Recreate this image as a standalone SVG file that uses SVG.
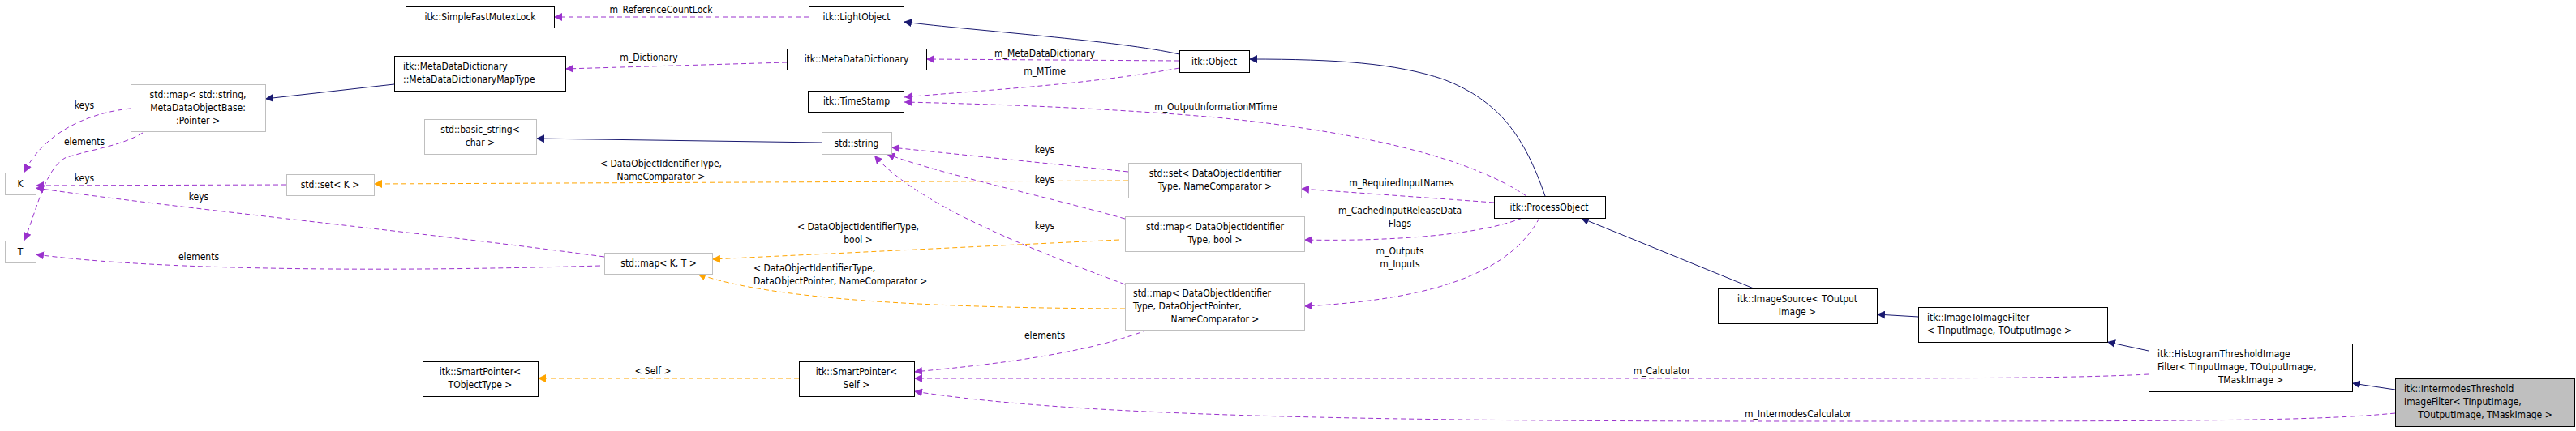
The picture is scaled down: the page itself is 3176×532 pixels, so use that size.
<svg xmlns="http://www.w3.org/2000/svg" width="3176" height="532" viewBox="0 0 3176 532">
<style>
text{font-family:"DejaVu Sans Condensed","DejaVu Sans",sans-serif;font-stretch:condensed;font-size:12px;fill:#000}
.n rect{fill:#fff;stroke:#000;stroke-width:1}
.g rect{fill:#fff;stroke:#bfbfbf;stroke-width:1}
.m{text-anchor:middle}
.p{fill:none;stroke:#9a32cd;stroke-dasharray:6,4}
.o{fill:none;stroke:#ffa500;stroke-dasharray:6,4}
.b{fill:none;stroke:#191970}
</style>
<defs>
<marker id="ap" viewBox="0 0 10 10" refX="10" refY="5" markerWidth="10" markerHeight="10" markerUnits="userSpaceOnUse" orient="auto"><path d="M0,0L10,5L0,10z" fill="#9a32cd"/></marker>
<marker id="ao" viewBox="0 0 10 10" refX="10" refY="5" markerWidth="10" markerHeight="10" markerUnits="userSpaceOnUse" orient="auto"><path d="M0,0L10,5L0,10z" fill="#ffa500"/></marker>
<marker id="ab" viewBox="0 0 10 10" refX="10" refY="5" markerWidth="10" markerHeight="10" markerUnits="userSpaceOnUse" orient="auto"><path d="M0,0L10,5L0,10z" fill="#191970"/></marker>
</defs>
<rect width="3176" height="532" fill="#fff"/>
<g id="edges">
<path class="p" marker-end="url(#ap)" d="M997,21L683,21"/>
<text class="m" x="815" y="16">m_ReferenceCountLock</text>
<path class="b" marker-end="url(#ab)" d="M1454,67C1380,50 1200,38 1114,27"/>
<path class="p" marker-end="url(#ap)" d="M1454,75L1142,73"/>
<text class="m" x="1288" y="70">m_MetaDataDictionary</text>
<path class="p" marker-end="url(#ap)" d="M1454,84C1340,105 1200,112 1115,120"/>
<text class="m" x="1288" y="92">m_MTime</text>
<path class="p" marker-end="url(#ap)" d="M1882,242C1820,200 1700,165 1500,145C1350,132 1200,128 1115,126"/>
<text class="m" x="1499" y="136">m_OutputInformationMTime</text>
<path class="b" marker-end="url(#ab)" d="M1905,242C1880,170 1850,125 1780,98C1720,78 1650,73 1540,73"/>
<path class="p" marker-end="url(#ap)" d="M970,77L697,85"/>
<text class="m" x="800" y="75">m_Dictionary</text>
<path class="b" marker-end="url(#ab)" d="M486,104L327,122"/>
<path class="p" marker-end="url(#ap)" d="M161,134C100,140 50,170 30,213"/>
<text class="m" x="104" y="134">keys</text>
<path class="p" marker-end="url(#ap)" d="M176,164C150,180 110,185 80,195C55,210 45,260 30,297"/>
<text class="m" x="104" y="179">elements</text>
<path class="p" marker-end="url(#ap)" d="M353,228L44,229"/>
<text class="m" x="104" y="224">keys</text>
<path class="p" marker-end="url(#ap)" d="M745,317C550,290 200,255 44,232"/>
<text class="m" x="245" y="247">keys</text>
<path class="p" marker-end="url(#ap)" d="M740,328C500,335 200,335 44,314"/>
<text class="m" x="245" y="321">elements</text>
<path class="b" marker-end="url(#ab)" d="M1013,176L661,171"/>
<path class="o" marker-end="url(#ao)" d="M1391,223L461,227"/>
<text class="m" x="815" y="206">&lt; DataObjectIdentifierType,</text>
<text class="m" x="815" y="222">NameComparator &gt;</text>
<path class="p" marker-end="url(#ap)" d="M1391,212L1099,182"/>
<text class="m" x="1288" y="189">keys</text>
<path class="p" marker-end="url(#ap)" d="M1387,270C1280,240 1160,215 1093,190"/>
<text class="m" x="1288" y="226">keys</text>
<path class="p" marker-end="url(#ap)" d="M1387,351C1250,300 1130,250 1078,192"/>
<text class="m" x="1288" y="283">keys</text>
<path class="o" marker-end="url(#ao)" d="M1380,296L878,320"/>
<text class="m" x="1058" y="284">&lt; DataObjectIdentifierType,</text>
<text class="m" x="1058" y="300">bool &gt;</text>
<path class="o" marker-end="url(#ao)" d="M1387,381C1150,380 950,370 860,338"/>
<text x="929" y="335">&lt; DataObjectIdentifierType,</text>
<text x="929" y="351">DataObjectPointer, NameComparator &gt;</text>
<path class="p" marker-end="url(#ap)" d="M1415,407C1330,440 1200,452 1127,459"/>
<text class="m" x="1288" y="418">elements</text>
<path class="p" marker-end="url(#ap)" d="M1842,250L1604,233"/>
<text class="m" x="1728" y="230">m_RequiredInputNames</text>
<path class="p" marker-end="url(#ap)" d="M1877,269C1820,292 1700,298 1608,296"/>
<text class="m" x="1726" y="264">m_CachedInputReleaseData</text>
<text class="m" x="1726" y="280">Flags</text>
<path class="p" marker-end="url(#ap)" d="M1898,269C1860,340 1760,370 1608,378"/>
<text class="m" x="1726" y="314">m_Outputs</text>
<text class="m" x="1726" y="330">m_Inputs</text>
<path class="o" marker-end="url(#ao)" d="M985,467L663,467"/>
<text class="m" x="805" y="462">&lt; Self &gt;</text>
<path class="p" marker-end="url(#ap)" d="M2649,462C2550,467 2400,467 2200,467L1127,467"/>
<text class="m" x="2049" y="462">m_Calculator</text>
<path class="p" marker-end="url(#ap)" d="M2953,510C2850,520 2700,520 2200,520C1600,520 1300,510 1127,483"/>
<text class="m" x="2217" y="515">m_IntermodesCalculator</text>
<path class="b" marker-end="url(#ab)" d="M2162,356L1949,269"/>
<path class="b" marker-end="url(#ab)" d="M2365,391L2314,388"/>
<path class="b" marker-end="url(#ab)" d="M2649,433L2598,422"/>
<path class="b" marker-end="url(#ab)" d="M2953,481L2900,473"/>
</g>
<g id="SimpleFastMutexLock" class="n"><rect x="500.5" y="8.5" width="183" height="26"/><text class="m" x="592" y="25">itk::SimpleFastMutexLock</text></g>
<g id="LightObject" class="n"><rect x="997.5" y="8.5" width="117" height="26"/><text class="m" x="1056" y="25">itk::LightObject</text></g>
<g id="MetaDataDictionary" class="n"><rect x="970.5" y="60.5" width="172" height="26"/><text class="m" x="1056" y="77">itk::MetaDataDictionary</text></g>
<g id="Object" class="n"><rect x="1454.5" y="62.5" width="86" height="27"/><text class="m" x="1497" y="80">itk::Object</text></g>
<g id="TimeStamp" class="n"><rect x="996.5" y="112.5" width="118" height="26"/><text class="m" x="1056" y="129">itk::TimeStamp</text></g>
<g id="MapType" class="n"><rect x="486.5" y="69.5" width="211" height="43"/><text x="497" y="86">itk::MetaDataDictionary</text><text x="497" y="102">::MetaDataDictionaryMapType</text></g>
<g id="MapString" class="g"><rect x="161.5" y="104.5" width="166" height="58"/><text class="m" x="244" y="121">std::map&lt; std::string,</text><text class="m" x="244" y="137">MetaDataObjectBase:</text><text class="m" x="244" y="153">:Pointer &gt;</text></g>
<g id="BasicString" class="g"><rect x="523.5" y="147.5" width="138" height="43"/><text class="m" x="592" y="164">std::basic_string&lt;</text><text class="m" x="592" y="180">char &gt;</text></g>
<g id="String" class="g"><rect x="1013.5" y="163.5" width="86" height="27"/><text class="m" x="1056" y="181">std::string</text></g>
<g id="K" class="g"><rect x="6.5" y="213.5" width="38" height="27"/><text class="m" x="25" y="231">K</text></g>
<g id="T" class="g"><rect x="6.5" y="297.5" width="38" height="27"/><text class="m" x="25" y="315">T</text></g>
<g id="SetK" class="g"><rect x="353.5" y="215.5" width="108" height="26"/><text class="m" x="407" y="232">std::set&lt; K &gt;</text></g>
<g id="MapKT" class="g"><rect x="745.5" y="312.5" width="133" height="26"/><text class="m" x="812" y="329">std::map&lt; K, T &gt;</text></g>
<g id="SetDOI" class="g"><rect x="1391.5" y="201.5" width="213" height="43"/><text class="m" x="1498" y="218">std::set&lt; DataObjectIdentifier</text><text class="m" x="1498" y="234">Type, NameComparator &gt;</text></g>
<g id="MapBool" class="g"><rect x="1387.5" y="267.5" width="221" height="43"/><text class="m" x="1498" y="284">std::map&lt; DataObjectIdentifier</text><text class="m" x="1498" y="300">Type, bool &gt;</text></g>
<g id="MapDOP" class="g"><rect x="1387.5" y="349.5" width="221" height="58"/><text x="1397" y="366">std::map&lt; DataObjectIdentifier</text><text x="1397" y="382">Type, DataObjectPointer,</text><text class="m" x="1498" y="398">NameComparator &gt;</text></g>
<g id="ProcessObject" class="n"><rect x="1842.5" y="242.5" width="137" height="27"/><text class="m" x="1910" y="260">itk::ProcessObject</text></g>
<g id="ImageSource" class="n"><rect x="2118.5" y="356.5" width="196" height="43"/><text class="m" x="2216" y="373">itk::ImageSource&lt; TOutput</text><text class="m" x="2216" y="389">Image &gt;</text></g>
<g id="ImageToImageFilter" class="n"><rect x="2365.5" y="379.5" width="233" height="43"/><text x="2376" y="396">itk::ImageToImageFilter</text><text x="2376" y="412">&lt; TInputImage, TOutputImage &gt;</text></g>
<g id="Histogram" class="n"><rect x="2649.5" y="424.5" width="251" height="59"/><text x="2660" y="441">itk::HistogramThresholdImage</text><text x="2660" y="457">Filter&lt; TInputImage, TOutputImage,</text><text class="m" x="2775" y="473">TMaskImage &gt;</text></g>
<g id="Intermodes" class="n"><rect x="2953.5" y="467.5" width="221" height="59" fill="#bfbfbf" style="fill:#bfbfbf"/><text x="2964" y="484">itk::IntermodesThreshold</text><text x="2964" y="500">ImageFilter&lt; TInputImage,</text><text class="m" x="3064" y="516">TOutputImage, TMaskImage &gt;</text></g>
<g id="SmartPointerT" class="n"><rect x="521.5" y="446.5" width="142" height="43"/><text class="m" x="592" y="463">itk::SmartPointer&lt;</text><text class="m" x="592" y="479">TObjectType &gt;</text></g>
<g id="SmartPointerSelf" class="n"><rect x="985.5" y="446.5" width="142" height="43"/><text class="m" x="1056" y="463">itk::SmartPointer&lt;</text><text class="m" x="1056" y="479">Self &gt;</text></g>
</svg>
